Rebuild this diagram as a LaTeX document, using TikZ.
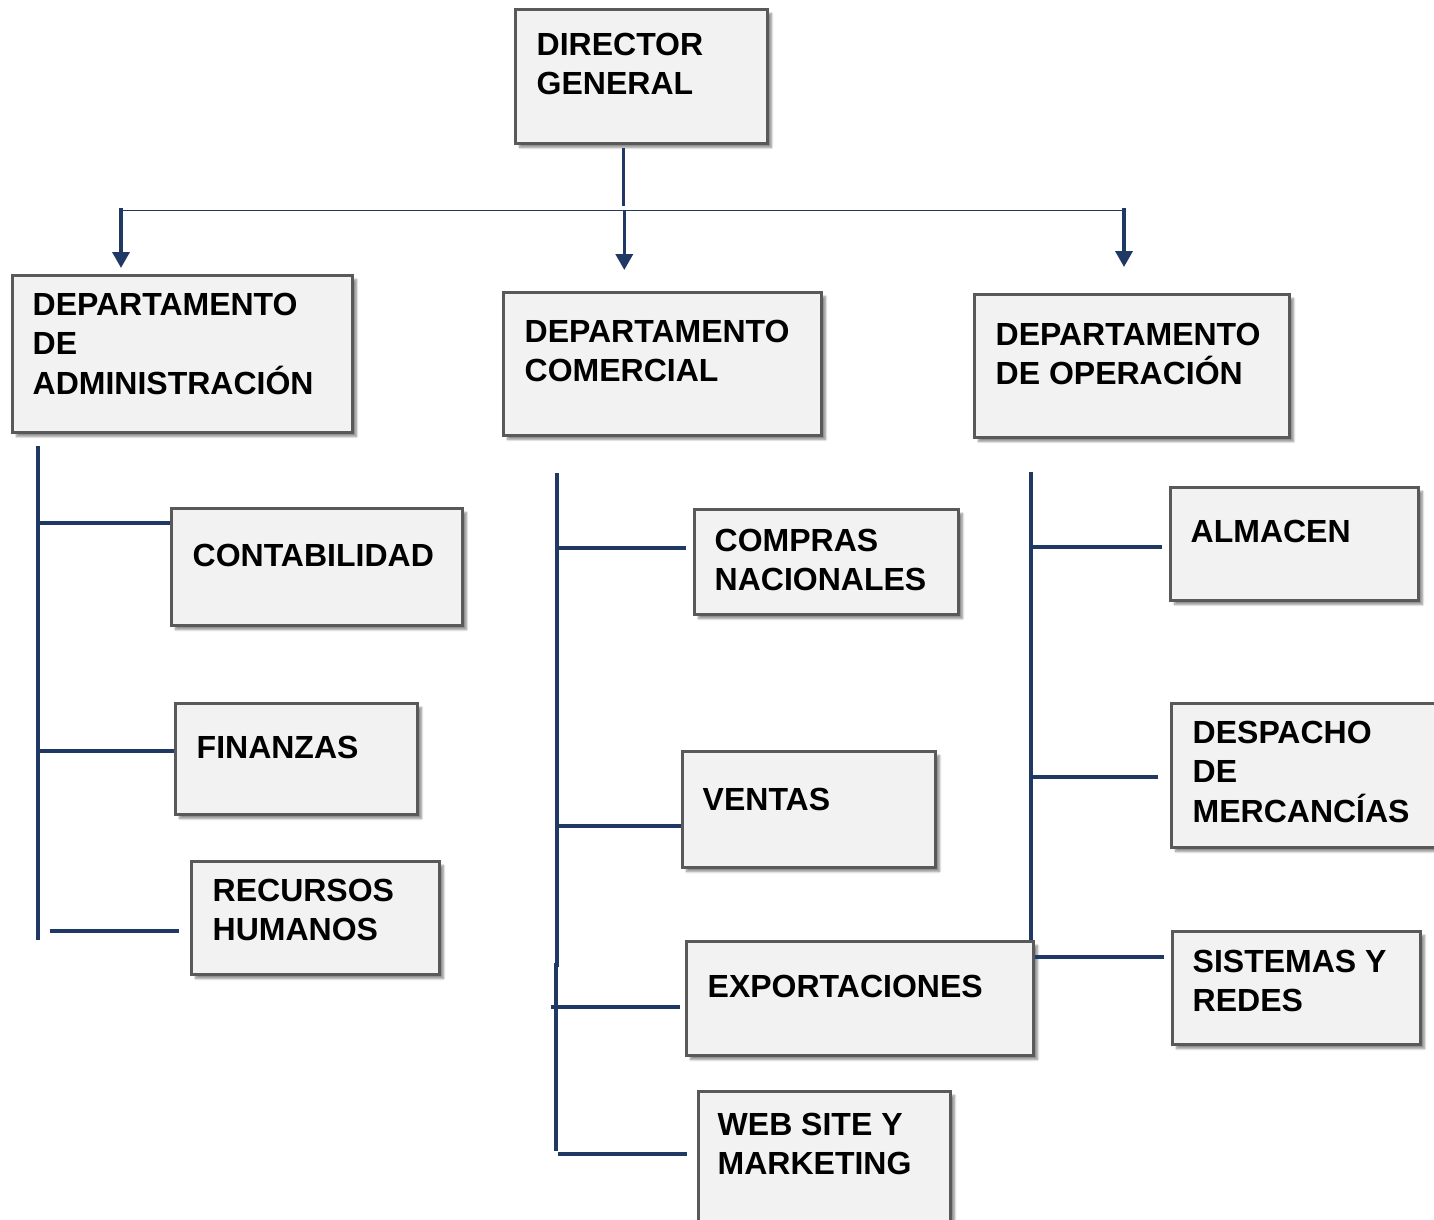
\documentclass[tikz,border=0pt]{standalone}
\usepackage{fontspec}
\setmainfont{Liberation Sans}
\usetikzlibrary{arrows.meta,shadows.blur}
\definecolor{navy}{HTML}{1F3864}
\definecolor{boxgray}{HTML}{595959}
\definecolor{boxfill}{HTML}{F2F2F2}
\newcommand\mystrut{\rule{0pt}{30pt}}
\tikzset{
  box/.style={draw=boxgray, line width=3pt, fill=boxfill, anchor=north west, inner sep=0pt,
    blur shadow={shadow xshift=4pt, shadow yshift=-4pt, shadow blur steps=6, shadow opacity=45}},
  txt/.style={anchor=north west, inner sep=0pt, align=left,
    font=\fontsize{32}{39.5}\selectfont\bfseries},
  conn/.style={draw=navy, line width=3.5pt},
  bus/.style={draw=navy, line width=1.5pt},
  arr/.style={draw=navy, line width=3.5pt, -{Triangle[width=17pt,length=16pt]}},
}
\begin{document}
\begin{tikzpicture}[x=1pt,y=-1pt]
\useasboundingbox (0,0) rectangle (1434,1219);
% boxes
\node[box, minimum width=252pt, minimum height=134pt] (dg)   at (514,8) {};
\node[box, minimum width=340pt, minimum height=157pt] (adm)  at (11,274) {};
\node[box, minimum width=318pt, minimum height=143pt] (com)  at (502,291) {};
\node[box, minimum width=315pt, minimum height=143pt] (ope)  at (973,293) {};
\node[box, minimum width=291pt, minimum height=117pt] (cont) at (170,507) {};
\node[box, minimum width=242pt, minimum height=111pt] (fin)  at (174,702) {};
\node[box, minimum width=248pt, minimum height=113pt] (rrhh) at (190,860) {};
\node[box, minimum width=264pt, minimum height=105pt] (compr) at (693,508) {};
\node[box, minimum width=253pt, minimum height=116pt] (vent) at (681,750) {};
\node[box, minimum width=347pt, minimum height=114pt] (expo) at (685,940) {};
\node[box, minimum width=252pt, minimum height=160pt] (web)  at (697,1090) {};
\node[box, minimum width=248pt, minimum height=113pt] (alm)  at (1169,486) {};
\node[box, minimum width=290pt, minimum height=144pt] (desp) at (1170,702) {};
\node[box, minimum width=248pt, minimum height=113pt] (sist) at (1171,930) {};
% texts
\node[txt] (dgT)   at (536.5,25)  {\mystrut DIRECTOR\\GENERAL};
\node[txt] (admT)  at (32.5,285)  {\mystrut DEPARTAMENTO\\DE\\ADMINISTRACIÓN};
\node[txt] (comT)  at (524.5,312) {\mystrut DEPARTAMENTO\\COMERCIAL};
\node[txt] (opeT)  at (995.5,315) {\mystrut DEPARTAMENTO\\DE OPERACIÓN};
\node[txt] (contT) at (192.5,536) {\mystrut CONTABILIDAD};
\node[txt] (finT)  at (196.5,728) {\mystrut FINANZAS};
\node[txt] (rrhhT) at (212.5,871) {\mystrut RECURSOS\\HUMANOS};
\node[txt] (comprT) at (714.5,521) {\mystrut COMPRAS\\NACIONALES};
\node[txt] (ventT) at (702.5,780) {\mystrut VENTAS};
\node[txt] (expoT) at (707.5,967) {\mystrut EXPORTACIONES};
\node[txt] (webT)  at (717.5,1105) {\mystrut WEB SITE Y\\MARKETING};
\node[txt] (almT)  at (1190.5,512) {\mystrut ALMACEN};
\node[txt] (despT) at (1192.5,713) {\mystrut DESPACHO\\DE\\MERCANCÍAS};
\node[txt] (sistT) at (1192.5,942) {\mystrut SISTEMAS Y\\REDES};
% top connectors
\coordinate (dgOut) at (623.3,148);
\coordinate (busC) at (623.3,206);
\coordinate (busL) at (123,210.5);
\coordinate (busR) at (1122,210.5);
\draw[conn] (dgOut) -- (busC);
\draw[bus] (busL) -- (busR);
\coordinate (aL0) at (121,208); \coordinate (aL1) at (121,268);
\coordinate (aM0) at (624.3,211); \coordinate (aM1) at (624.3,270);
\coordinate (aR0) at (1124,208); \coordinate (aR1) at (1124,267);
\draw[arr] (aL0) -- (aL1);
\draw[arr] (aM0) -- (aM1);
\draw[arr] (aR0) -- (aR1);
% left branch
\coordinate (lv0) at (38,446); \coordinate (lv1) at (38,940);
\draw[conn] (lv0) -- (lv1);
\coordinate (lh1) at (38,523); \coordinate (lh2) at (38,751); \coordinate (lh3) at (50,931);
\draw[conn] (lh1) -- (cont.west |- lh1);
\draw[conn] (lh2) -- (fin.west |- lh2);
\draw[conn] (lh3) -- ([xshift=-11pt]rrhh.west |- lh3);
% middle branch
\coordinate (mv0) at (557,473); \coordinate (mv1) at (557,967);
\coordinate (mv2) at (556,963); \coordinate (mv3) at (556,1151);
\draw[conn] (mv0) -- (mv1);
\draw[conn] (mv2) -- (mv3);
\coordinate (mh1) at (557,548); \coordinate (mh2) at (557,826);
\coordinate (mh3) at (551,1007); \coordinate (mh4) at (558,1154);
\draw[conn] (mh1) -- ([xshift=-7pt]compr.west |- mh1);
\draw[conn] (mh2) -- (vent.west |- mh2);
\draw[conn] (mh3) -- ([xshift=-5pt]expo.west |- mh3);
\draw[conn] (mh4) -- ([xshift=-10pt]web.west |- mh4);
% right branch
\coordinate (rv0) at (1031,472);
\draw[conn] (rv0) -- (rv0 |- expo.north);
\coordinate (rh1) at (1031,547); \coordinate (rh2) at (1031,777); \coordinate (rh3) at (1035,957);
\draw[conn] (rh1) -- ([xshift=-7pt]alm.west |- rh1);
\draw[conn] (rh2) -- ([xshift=-12pt]desp.west |- rh2);
\draw[conn] (rh3) -- ([xshift=-7pt]sist.west |- rh3);
\end{tikzpicture}
\end{document}
